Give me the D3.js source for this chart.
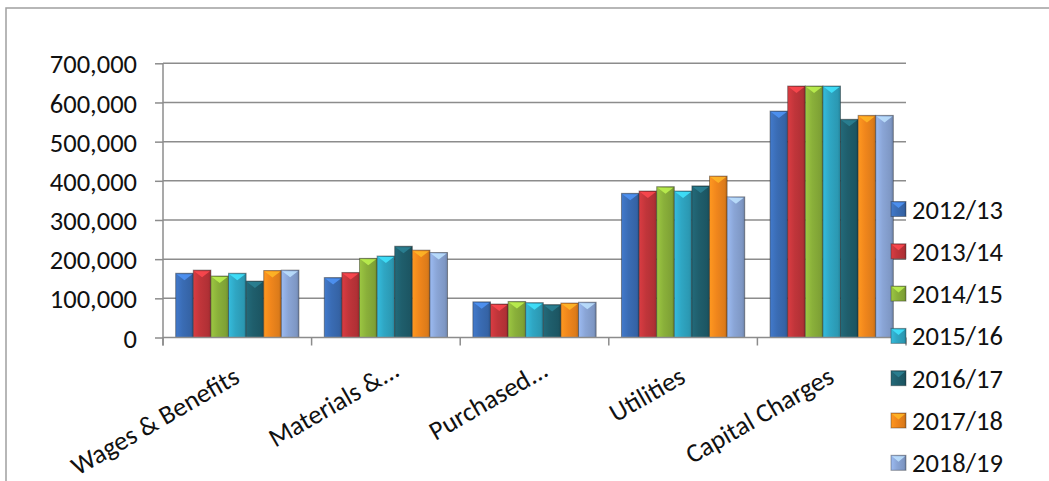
<!DOCTYPE html>
<meta charset="utf-8">
<style>
body { margin: 0; background: #fff; }
text { font-family: Calibri, Carlito, "Liberation Sans", sans-serif; fill: #111; }
.grid line { stroke: #8c8c8c; stroke-width: 1.5; }
.axis path, .axis line { stroke: #8c8c8c; stroke-width: 1.5; }
</style>
<svg width="1049" height="481"></svg>
<script src="https://cdn.jsdelivr.net/npm/d3@7"></script>
<script>
// categories and series
var categories = ["Wages & Benefits", "Materials &...", "Purchased...", "Utilities", "Capital Charges"];
var years = ["2012/13", "2013/14", "2014/15", "2015/16", "2016/17", "2017/18", "2018/19"];
var colors = ["#3a6cb4", "#c0353a", "#8ab03a", "#2fa6c3", "#1f5e6c", "#f0861c", "#8aa5d6"];

var wages     = [164000, 172000, 157000, 164000, 144000, 171000, 172000];
var materials = [153000, 166000, 202000, 208000, 233000, 223000, 217000];
var purchased = [91000, 85500, 92000, 89000, 84000, 88000, 90000];
var utilities = [368000, 374000, 385000, 374000, 387000, 412000, 359000];
var capital   = [578000, 642000, 642000, 642000, 557000, 567000, 567000];

var yTicks = [0, 100000, 200000, 300000, 400000, 500000, 600000, 700000];

var values = [wages, materials, purchased, utilities, capital];
var data = categories.map(function(c, i) {
  return { cat: c, vals: years.map(function(y, j) { return { year: y, i: j, v: values[i][j] }; }) };
});

var svg = d3.select("svg");
var fs = 26.5;

// chart border (runs off the right and bottom of the picture)
svg.append("rect")
    .attr("x", 6).attr("y", 8)
    .attr("width", 1200).attr("height", 600)
    .attr("fill", "#fff")
    .attr("stroke", "#a0a0a0")
    .attr("stroke-width", 1.5);

var x0 = d3.scaleBand().domain(categories).range([163, 906]);
var x1 = d3.scaleBand().domain(years).range([0, x0.bandwidth()]).paddingOuter(0.72);
var y = d3.scaleLinear().domain([0, 700000]).range([337.5, 63.3]);

// gradients for the bevelled bars
var defs = svg.append("defs");
colors.forEach(function(c, i) {
  var g = defs.append("linearGradient").attr("id", "g" + i).attr("x1", 0).attr("x2", 1);
  g.append("stop").attr("offset", "0%").attr("stop-color", d3.color(c).brighter(0.35));
  g.append("stop").attr("offset", "40%").attr("stop-color", c);
  g.append("stop").attr("offset", "85%").attr("stop-color", d3.color(c).darker(0.25));
  g.append("stop").attr("offset", "100%").attr("stop-color", d3.color(c).darker(0.7));
});

// gridlines
svg.append("g")
    .attr("class", "grid")
  .selectAll("line")
  .data(yTicks.slice(1))
  .enter().append("line")
    .attr("x1", 163).attr("x2", 906)
    .attr("y1", function(d) { return y(d); })
    .attr("y2", function(d) { return y(d); });

// y axis
var yAxis = d3.axisLeft(y).tickValues(yTicks).tickFormat(d3.format(",")).tickSize(8).tickPadding(18);
svg.append("g")
    .attr("class", "axis")
    .attr("transform", "translate(163,0)")
    .call(yAxis)
    .call(function(g) {
      g.select(".domain").attr("d", "M0," + y(700000) + "V" + (y(0) + 8));
      g.selectAll("text").attr("font-size", fs).attr("dy", "0.36em");
    });

// bars
var groups = svg.append("g").selectAll("g")
  .data(data)
  .enter().append("g")
    .attr("transform", function(d) { return "translate(" + x0(d.cat) + ",0)"; });

var bars = groups.selectAll("g")
  .data(function(d) { return d.vals; })
  .enter().append("g");

bars.append("rect")
    .attr("x", function(d) { return x1(d.year); })
    .attr("y", function(d) { return y(d.v); })
    .attr("width", x1.bandwidth())
    .attr("height", function(d) { return y(0) - y(d.v); })
    .attr("fill", function(d) { return "url(#g" + d.i + ")"; })
    .attr("stroke", "rgba(40,40,40,0.45)")
    .attr("stroke-width", 1);

bars.append("path")
    .attr("d", function(d) {
      var xa = x1(d.year) + 1, w = x1.bandwidth() - 2, t = y(d.v) + 1;
      return "M" + xa + "," + t + "H" + (xa + w) + "L" + (xa + w / 2) + "," + (t + 6) + "Z";
    })
    .attr("fill", function(d) { return d3.color(colors[d.i]).brighter(0.9); })
    .attr("opacity", 0.85);

// x axis
var xAxisG = svg.append("g").attr("class", "axis");
xAxisG.append("line")
    .attr("x1", 163).attr("x2", 906)
    .attr("y1", y(0)).attr("y2", y(0));
xAxisG.selectAll(".tick")
  .data(categories.map(function(c) { return x0(c); }).concat([x0.range()[1]]))
  .enter().append("line")
    .attr("x1", function(d) { return d; }).attr("x2", function(d) { return d; })
    .attr("y1", y(0)).attr("y2", y(0) + 8);

// truncated labels sit a little further along their baseline
svg.append("g").selectAll("text")
  .data(categories)
  .enter().append("text")
    .attr("font-size", fs)
    .attr("text-anchor", "end")
    .attr("dx", function(d) { return /\.\.\.$/.test(d) ? 13 : 0; })
    .attr("transform", function(d) {
      return "translate(" + (x0(d) + x0.bandwidth() / 2 + 4) + "," + (y(0) + 44) + ") rotate(-30)";
    })
    .text(function(d) { return d; });

// legend
var legend = svg.append("g").selectAll("g")
  .data(years)
  .enter().append("g")
    .attr("transform", function(d, i) { return "translate(891," + (209 + i * 42.3) + ")"; });

legend.append("rect")
    .attr("x", 0).attr("y", -7.5)
    .attr("width", 15).attr("height", 15)
    .attr("fill", function(d, i) { return "url(#g" + i + ")"; })
    .attr("stroke", "rgba(40,40,40,0.4)");

legend.append("path")
    .attr("d", "M1,-6.5H14L7.5,-1Z")
    .attr("fill", function(d, i) { return d3.color(colors[i]).brighter(0.9); })
    .attr("opacity", 0.85);

legend.append("text")
    .attr("x", 21)
    .attr("dy", "0.36em")
    .attr("font-size", fs)
    .text(function(d) { return d; });
</script>
